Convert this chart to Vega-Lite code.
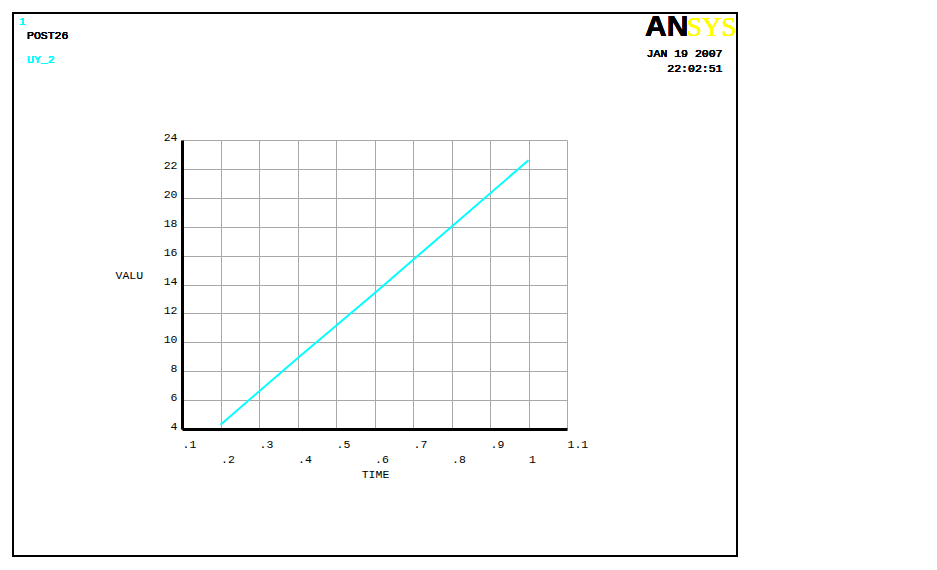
{
  "$schema": "https://vega.github.io/schema/vega-lite/v6.json",
  "width": 385,
  "height": 289,
  "autosize": {"type": "none"},
  "padding": {"left": 182, "top": 140, "right": 370, "bottom": 141},
  "background": "white",
  "config": {
    "view": {"stroke": null},
    "font": "Liberation Mono"
  },
  "data": {
    "values": [
      {"time": 0.2, "value": 4.3},
      {"time": 0.4, "value": 8.9},
      {"time": 0.6, "value": 13.4},
      {"time": 0.8, "value": 18.0},
      {"time": 1.0, "value": 22.6}
    ]
  },
  "encoding": {
    "x": {
      "field": "time",
      "type": "quantitative",
      "scale": {"domain": [0.1, 1.1], "nice": false, "zero": false},
      "axis": {
        "values": [0.1, 0.2, 0.3, 0.4, 0.5, 0.6, 0.7, 0.8, 0.9, 1.0, 1.1],
        "labelExpr": "round(datum.value * 10) % 2 == 0 ? ['', (datum.value < 0.95 ? '.' + round(datum.value * 10) : '1')] : (datum.value < 1.05 ? '.' + round(datum.value * 10) : '1.1')",
        "labelAlign": "left",
        "labelBaseline": "top",
        "labelLineHeight": 15,
        "labelPadding": 9,
        "labelFont": "Liberation Mono",
        "labelFontSize": 11.5,
        "labelColor": "black",
        "labelFlush": false,
        "labelOverlap": false,
        "ticks": false,
        "domainColor": "black",
        "domainWidth": 3,
        "grid": true,
        "gridColor": "#a8a8a8",
        "gridWidth": 1,
        "title": "TIME",
        "titleFont": "Liberation Mono",
        "titleFontSize": 11.5,
        "titleFontWeight": "normal",
        "titleColor": "black",
        "titleAnchor": "middle",
        "titleBaseline": "alphabetic",
        "titleX": 193,
        "titleY": 48
      }
    },
    "y": {
      "field": "value",
      "type": "quantitative",
      "scale": {"domain": [4, 24], "nice": false, "zero": false},
      "axis": {
        "values": [4, 6, 8, 10, 12, 14, 16, 18, 20, 22, 24],
        "labelAlign": "right",
        "labelBaseline": "alphabetic",
        "labelPadding": 5,
        "labelFont": "Liberation Mono",
        "labelFontSize": 11.5,
        "labelColor": "black",
        "labelFlush": false,
        "labelOverlap": false,
        "ticks": false,
        "domainColor": "black",
        "domainWidth": 3,
        "grid": true,
        "gridColor": "#a8a8a8",
        "gridWidth": 1,
        "title": "VALU",
        "titleAngle": 0,
        "titleFont": "Liberation Mono",
        "titleFontSize": 11.5,
        "titleFontWeight": "normal",
        "titleColor": "black",
        "titleAlign": "left",
        "titleBaseline": "alphabetic",
        "titleX": -67,
        "titleY": 138
      }
    }
  },
  "layer": [
    {
      "mark": {"type": "rect", "fill": null, "stroke": "black", "strokeWidth": 1.5, "clip": false},
      "encoding": {
        "x": {"datum": -0.339},
        "x2": {"datum": 1.5416},
        "y": {"datum": 32.789},
        "y2": {"datum": -4.789}
      }
    },
    {
      "mark": {"type": "line", "color": "#00ffff", "strokeWidth": 2}
    },
    {
      "mark": {"type": "text", "text": "1", "align": "left", "baseline": "alphabetic", "color": "#00ffff", "font": "Liberation Mono", "fontSize": 11.5},
      "encoding": {"x": {"datum": -0.3234}, "y": {"datum": 31.958}}
    },
    {
      "mark": {"type": "text", "text": "POST26", "align": "left", "baseline": "alphabetic", "color": "black", "font": "Liberation Mono", "fontSize": 11.5},
      "encoding": {"x": {"datum": -0.3026}, "y": {"datum": 30.99}}
    },
    {
      "mark": {"type": "text", "text": "UY_2", "align": "left", "baseline": "alphabetic", "color": "#00ffff", "font": "Liberation Mono", "fontSize": 11.5},
      "encoding": {"x": {"datum": -0.3026}, "y": {"datum": 29.363}}
    },
    {
      "mark": {"type": "text", "text": "JAN 19 2007", "align": "right", "baseline": "alphabetic", "color": "black", "font": "Liberation Mono", "fontSize": 11.5},
      "encoding": {"x": {"datum": 1.5039}, "y": {"datum": 29.744}}
    },
    {
      "mark": {"type": "text", "text": "22:02:51", "align": "right", "baseline": "alphabetic", "color": "black", "font": "Liberation Mono", "fontSize": 11.5},
      "encoding": {"x": {"datum": 1.5039}, "y": {"datum": 28.706}}
    },
    {
      "mark": {"type": "text", "text": "AN", "align": "left", "baseline": "alphabetic", "color": "black", "font": "Liberation Sans", "fontWeight": "bold", "fontSize": 30},
      "encoding": {"x": {"datum": 1.3026}, "y": {"datum": 31.176}}
    },
    {
      "mark": {"type": "text", "text": "SYS", "align": "left", "baseline": "alphabetic", "color": "#ffff00", "font": "Liberation Serif", "fontSize": 27},
      "encoding": {"x": {"datum": 1.4117}, "y": {"datum": 31.176}}
    }
  ]
}
